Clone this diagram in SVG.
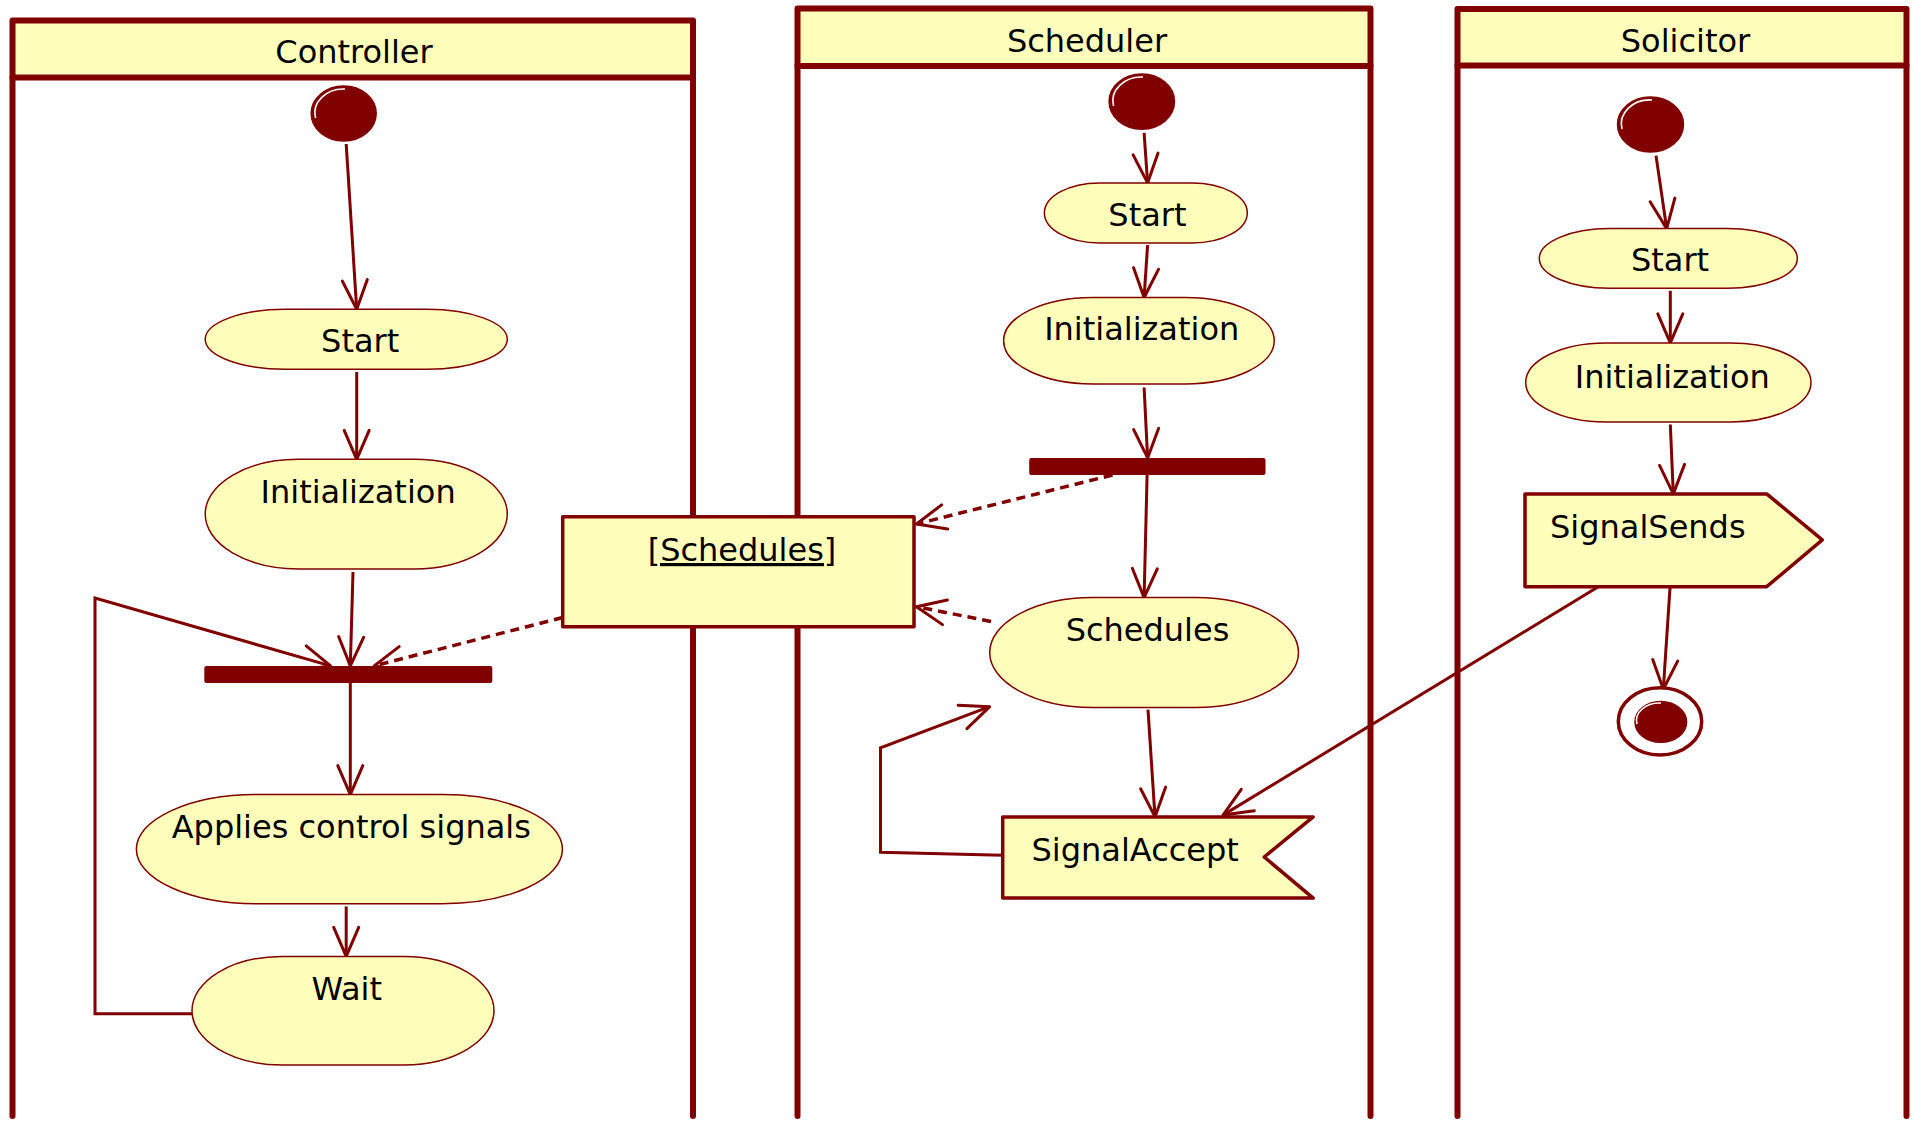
<svg xmlns="http://www.w3.org/2000/svg" width="1912" height="1121" viewBox="0 0 1912 1121">
  <style>
    .lane { fill: #FFFFBB; stroke: #800000; stroke-width: 6; stroke-linejoin: round; }
    .laneline { stroke: #800000; stroke-width: 6; stroke-linecap: round; fill: none; }
    .title { font-family: "DejaVu Sans", Verdana, sans-serif; font-size: 32px; fill: #000; text-anchor: middle; }
    .act { fill: #FFFFBB; stroke: #800000; stroke-width: 1.5; }
    .box { fill: #FFFFBB; stroke: #800000; stroke-width: 3.5; stroke-linejoin: round; }
    .bar { fill: #800000; }
    .dot { fill: #800000; stroke: #800000; stroke-width: 1.5; }
    .shine { fill: none; stroke: #FFFFFF; stroke-width: 1.6; }
    .flow { fill: none; stroke: #800000; stroke-width: 3; marker-end: url(#arrow); }
    .dep { fill: none; stroke: #800000; stroke-width: 3.5; stroke-dasharray: 9 6; marker-end: url(#arrow); }
    .label { font-family: "DejaVu Sans", Verdana, sans-serif; font-size: 32px; fill: #000; text-anchor: middle; }
  </style>
  <defs>
    <marker id="arrow" markerUnits="userSpaceOnUse" viewBox="-34 -16 38 32" markerWidth="38" markerHeight="32" refX="0" refY="0" orient="auto" overflow="visible">
      <path d="M -29 -12.5 L 0 0 L -29 12.5" fill="none" stroke="#800000" stroke-width="3" stroke-linecap="round" stroke-linejoin="round"/>
    </marker>
  </defs>

  <rect width="1912" height="1121" fill="#FFFFFF"/>

  <!-- swimlanes -->
  <g id="lane-controller">
    <rect class="lane" x="12.5" y="20.5" width="680.5" height="57"/>
    <line class="laneline" x1="12.5" y1="77.5" x2="12.5" y2="1116"/>
    <line class="laneline" x1="693" y1="77.5" x2="693" y2="1116"/>
    <text class="title" x="354" y="63">Controller</text>
  </g>
  <g id="lane-scheduler">
    <rect class="lane" x="797.5" y="8.5" width="573" height="57.5"/>
    <line class="laneline" x1="797.5" y1="66" x2="797.5" y2="1116"/>
    <line class="laneline" x1="1370.5" y1="66" x2="1370.5" y2="1116"/>
    <text class="title" x="1087" y="52">Scheduler</text>
  </g>
  <g id="lane-solicitor">
    <rect class="lane" x="1457.5" y="9" width="449" height="56.5"/>
    <line class="laneline" x1="1457.5" y1="65.5" x2="1457.5" y2="1116"/>
    <line class="laneline" x1="1906.5" y1="65.5" x2="1906.5" y2="1116"/>
    <text class="title" x="1685.5" y="52">Solicitor</text>
  </g>

  <!-- connectors -->
  <g id="connectors">
    <!-- Controller -->
    <path class="flow" d="M346.2 144 L356.7 309.3"/>
    <path class="flow" d="M356.7 372 L356.7 459.3"/>
    <path class="flow" d="M353 572 L350.3 665.9"/>
    <path class="flow" d="M192 1013.7 L95 1013.7 L95 598 L330.6 665.9"/>
    <path class="dep" d="M562.7 617.5 L374.2 665.9"/>
    <path class="flow" d="M350.3 683 L350.3 794.6"/>
    <path class="flow" d="M346.2 906.4 L346.2 956.4"/>
    <!-- Scheduler -->
    <path class="flow" d="M1144.1 132.9 L1147.6 182.9"/>
    <path class="flow" d="M1147.6 245 L1144.1 297.5"/>
    <path class="flow" d="M1144.1 387.5 L1147.6 457.9"/>
    <path class="dep" d="M1112.5 475 L916.5 524"/>
    <path class="flow" d="M1147.1 475 L1144.1 597.6"/>
    <path class="dep" d="M991 621.5 L916.5 606.7"/>
    <path class="flow" d="M1148 709.6 L1155 816.9"/>
    <path class="flow" d="M1002.7 855.2 L880.5 852.3 L880.5 747.8 L989.7 706.7"/>
    <!-- Solicitor -->
    <path class="flow" d="M1656 155.6 L1666.7 228.6"/>
    <path class="flow" d="M1670.3 290.8 L1670.3 342.9"/>
    <path class="flow" d="M1670.3 424.5 L1673.3 493.9"/>
    <path class="flow" d="M1670 587.8 L1663.3 689.3"/>
    <path class="flow" d="M1598.3 586.7 L1223 815.1"/>
  </g>

  <!-- Controller nodes -->
  <g id="c-initial">
    <ellipse class="dot" cx="343.7" cy="113.5" rx="32.5" ry="27.5"/>
    <path class="shine" d="M315.5 118 A28.5 24 0 0 1 345 89"/>
  </g>
  <g id="c-start">
    <rect class="act" x="205.2" y="309.3" width="302.1" height="60" rx="80" ry="30"/>
    <text class="label" x="360.2" y="352">Start</text>
  </g>
  <g id="c-init">
    <rect class="act" x="205.2" y="459.3" width="302.1" height="109.6" rx="93" ry="54.8"/>
    <text class="label" x="358.1" y="503">Initialization</text>
  </g>
  <g id="c-fork">
    <rect class="bar" x="204.3" y="666" width="288" height="17" rx="2"/>
  </g>
  <g id="c-applies">
    <rect class="act" x="136.4" y="794.6" width="426" height="109.1" rx="120" ry="54.5"/>
    <text class="label" x="351.3" y="838">Applies control signals</text>
  </g>
  <g id="c-wait">
    <rect class="act" x="192" y="956.4" width="302" height="108.6" rx="90" ry="54.3"/>
    <text class="label" x="346.7" y="1000">Wait</text>
  </g>

  <!-- shared object -->
  <g id="schedules-object">
    <rect class="box" x="562.7" y="516.7" width="351.3" height="110"/>
    <text class="label" x="742" y="561" text-decoration="underline">[Schedules]</text>
  </g>

  <!-- Scheduler nodes -->
  <g id="s-initial">
    <ellipse class="dot" cx="1141.8" cy="101.6" rx="32.7" ry="27.7"/>
    <path class="shine" d="M1113.5 106 A28.5 24 0 0 1 1143 77"/>
  </g>
  <g id="s-start">
    <rect class="act" x="1044.4" y="182.9" width="202.9" height="60" rx="55" ry="30"/>
    <text class="label" x="1147.4" y="226">Start</text>
  </g>
  <g id="s-init">
    <rect class="act" x="1003.6" y="297.5" width="270.6" height="86.4" rx="89" ry="43.2"/>
    <text class="label" x="1141.7" y="340">Initialization</text>
  </g>
  <g id="s-fork">
    <rect class="bar" x="1029.2" y="458" width="236.3" height="17" rx="2"/>
  </g>
  <g id="s-schedules">
    <rect class="act" x="989.7" y="597.6" width="308.8" height="109.8" rx="103" ry="54.9"/>
    <text class="label" x="1147.5" y="640.5">Schedules</text>
  </g>
  <g id="s-signal-accept">
    <polygon class="box" points="1002.7,816.9 1313.2,816.9 1264.2,857 1313.2,898.1 1002.7,898.1"/>
    <text class="label" x="1135.2" y="860.5">SignalAccept</text>
  </g>

  <!-- Solicitor nodes -->
  <g id="so-initial">
    <ellipse class="dot" cx="1650.5" cy="124.5" rx="33" ry="27.5"/>
    <path class="shine" d="M1622 129 A28.5 24 0 0 1 1652 100"/>
  </g>
  <g id="so-start">
    <rect class="act" x="1539.3" y="228.6" width="258" height="59.7" rx="70" ry="29.9"/>
    <text class="label" x="1670" y="271">Start</text>
  </g>
  <g id="so-init">
    <rect class="act" x="1525.7" y="342.9" width="285.3" height="79" rx="80" ry="39.5"/>
    <text class="label" x="1672.3" y="388">Initialization</text>
  </g>
  <g id="so-signal-sends">
    <polygon class="box" points="1525,493.9 1766.7,493.9 1822.3,539.8 1766.7,586.7 1525,586.7"/>
    <text class="label" x="1647.8" y="538">SignalSends</text>
  </g>
  <g id="so-final">
    <ellipse cx="1660" cy="721.4" rx="41.7" ry="33.7" fill="#FFFFFF" stroke="#800000" stroke-width="3.5"/>
    <ellipse class="dot" cx="1660.8" cy="721.9" rx="25.8" ry="20.4"/>
    <path class="shine" d="M1637 724 A23 17.5 0 0 1 1661 703"/>
  </g>
</svg>
